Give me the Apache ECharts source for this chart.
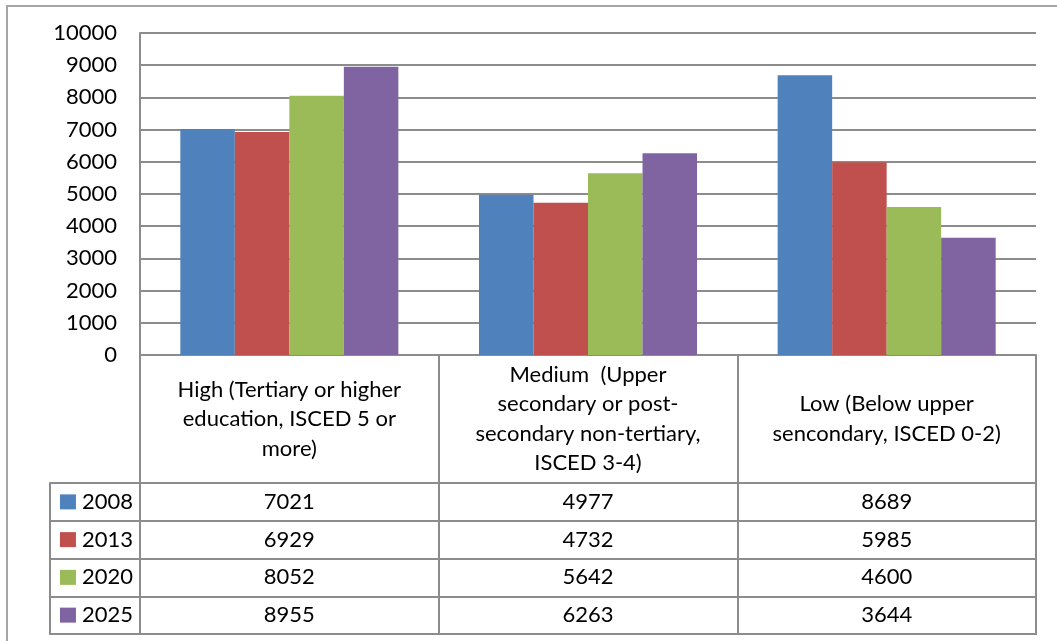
<!DOCTYPE html>
<html>
<head>
<meta charset="utf-8">
<script src="https://cdn.jsdelivr.net/npm/echarts@6/dist/echarts.min.js"></script>
<style>
  html, body { margin: 0; padding: 0; background: #fff; }
  #chart { width: 1057px; height: 641px; }
</style>
</head>
<body>
<div id="chart"></div>
<script>
// levels of education (table header text, with line breaks as in the picture)
const categories = [
  'High (Tertiary or higher\neducation, ISCED 5 or\nmore)',
  'Medium  (Upper\nsecondary or post-\nsecondary non-tertiary,\nISCED 3-4)',
  'Low (Below upper\nsencondary, ISCED 0-2)'
];
const years = ['2008', '2013', '2020', '2025'];
const values2008 = [7021, 4977, 8689];
const values2013 = [6929, 4732, 5985];
const values2020 = [8052, 5642, 4600];
const values2025 = [8955, 6263, 3644];
const yTicks = [0, 1000, 2000, 3000, 4000, 5000, 6000, 7000, 8000, 9000, 10000];

const seriesValues = [values2008, values2013, values2020, values2025];
const colors = ['#4F81BD', '#C0504D', '#9BBB59', '#8064A2'];
const lineColor = '#8c8c8c';
const font = 'Lato, "Open Sans", sans-serif';
const fontSize = 22;

const chart = echarts.init(document.getElementById('chart'));

// table cells: [category, year, value]
const cellData = [];
years.forEach((y, i) => {
  categories.forEach((c, j) => {
    cellData.push([c, y, seriesValues[i][j]]);
  });
});

const legendRich = {};
years.forEach((y, i) => {
  legendRich['m' + i] = { width: 16, height: 15, backgroundColor: colors[i] };
});
legendRich.t = { fontFamily: font, fontSize: fontSize, color: '#000', padding: [0, 0, 0, 6] };

const option = {
  animation: false,
  backgroundColor: '#fff',
  graphic: [{
    type: 'rect',
    z: -1,
    shape: { x: 7, y: 6, width: 1080, height: 680 },
    style: { fill: 'none', stroke: '#a6a6a6', lineWidth: 2 }
  }],
  grid: [
    { left: 140, right: 21, top: 33, height: 322 },
    { left: 140, right: 21, top: 483, height: 151, show: true, borderColor: lineColor, borderWidth: 2 }
  ],
  xAxis: [
    {
      type: 'category',
      gridIndex: 0,
      data: categories,
      axisLine: { lineStyle: { color: lineColor, width: 2 } },
      axisTick: { show: true, length: 128, lineStyle: { color: lineColor, width: 2 } },
      axisLabel: {
        interval: 0,
        margin: 64,
        verticalAlign: 'middle',
        align: 'center',
        lineHeight: 29.5,
        fontFamily: font,
        fontSize: fontSize,
        color: '#000'
      }
    },
    {
      type: 'category',
      gridIndex: 1,
      data: categories,
      axisLine: { show: true, lineStyle: { color: lineColor, width: 2 } },
      axisTick: { show: false },
      axisLabel: { show: false },
      splitLine: { show: true, interval: 0, lineStyle: { color: lineColor, width: 2 } }
    }
  ],
  yAxis: [
    {
      type: 'value',
      gridIndex: 0,
      min: yTicks[0],
      max: yTicks[yTicks.length - 1],
      interval: yTicks[1] - yTicks[0],
      axisLine: { show: true, lineStyle: { color: lineColor, width: 2 } },
      axisTick: { show: false },
      axisLabel: { margin: 23, fontFamily: font, fontSize: fontSize, color: '#000', formatter: v => String(v) },
      splitLine: { show: true, lineStyle: { color: lineColor, width: 2 } }
    },
    {
      type: 'category',
      gridIndex: 1,
      data: years,
      inverse: true,
      axisLine: { show: true, lineStyle: { color: lineColor, width: 2 } },
      axisTick: { show: true, length: 90, interval: 0, lineStyle: { color: lineColor, width: 2 } },
      axisLabel: {
        margin: 7,
        formatter: (v, i) => '{m' + i + '|}{t|' + v + '}',
        rich: legendRich
      },
      splitLine: { show: true, interval: 0, lineStyle: { color: lineColor, width: 2 } }
    },
    {
      // left edge of the legend column
      type: 'category',
      gridIndex: 1,
      data: years,
      inverse: true,
      position: 'left',
      offset: 90,
      axisLine: { show: true, lineStyle: { color: lineColor, width: 2 } },
      axisTick: { show: false },
      axisLabel: { show: false }
    }
  ],
  series: years.map((y, i) => ({
    name: y,
    type: 'bar',
    xAxisIndex: 0,
    yAxisIndex: 0,
    data: seriesValues[i],
    barGap: '0%',
    barCategoryGap: '27%',
    itemStyle: { color: colors[i] }
  })).concat([{
    name: 'table',
    type: 'scatter',
    xAxisIndex: 1,
    yAxisIndex: 1,
    data: cellData,
    symbol: 'rect',
    symbolSize: 1,
    itemStyle: { color: '#fff', opacity: 1 },
    label: {
      show: true,
      position: 'inside',
      formatter: p => String(p.value[2]),
      fontFamily: font,
      fontSize: fontSize,
      color: '#000',
      textBorderWidth: 0
    }
  }])
};

chart.setOption(option);
</script>
</body>
</html>
